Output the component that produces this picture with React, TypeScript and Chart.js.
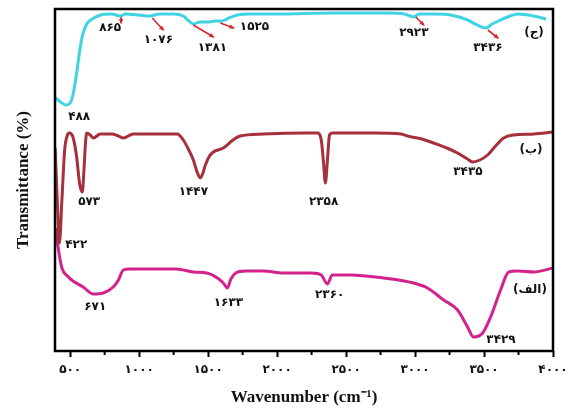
import React, { useEffect, useRef } from "react";
import { Chart, registerables } from "chart.js";

Chart.register(...registerables);

// Wavenumber (cm-1) and transmittance (arbitrary, offset spectra)
const cyanWn = [395, 430, 470, 500, 520, 545, 570, 590, 620, 660, 720, 800, 865, 900, 1000, 1076, 1150, 1250, 1320, 1360, 1393, 1440, 1500, 1550, 1600, 1650, 1712, 1800, 2000, 2400, 2800, 2923, 2990, 3030, 3150, 3258, 3381, 3450, 3512, 3560, 3620, 3690, 3744, 3860, 3950];
const cyanT = [253, 249, 246, 248, 256, 276, 301, 316, 327, 332, 336, 337, 335, 337, 336, 335, 337, 337, 335, 330, 327, 329, 329, 330, 330, 333, 336, 337, 337, 338, 338, 337, 334, 337, 337, 336, 331, 326, 323, 327, 331, 335, 337, 335, 332];

const redWn = [391, 405, 422, 440, 460, 480, 494, 520, 545, 570, 588, 600, 610, 620, 645, 668, 718, 800, 850, 885, 957, 1100, 1276, 1320, 1360, 1393, 1420, 1443, 1460, 1480, 1510, 1538, 1610, 1680, 1733, 1900, 2200, 2292, 2320, 2335, 2350, 2365, 2380, 2400, 2700, 2900, 2945, 3050, 3134, 3230, 3308, 3380, 3417, 3470, 3526, 3590, 3642, 3715, 3860, 4000];
const redT = [203, 156, 108, 151, 201, 216, 218, 214, 196, 166, 159, 181, 206, 218, 216, 213, 217, 217, 215, 213, 217, 217, 217, 211, 201, 191, 179, 173, 177, 186, 195, 199, 203, 211, 215, 217, 218, 218, 211, 191, 168, 191, 216, 218, 218, 217, 215, 212, 208, 203, 198, 192, 189, 191, 196, 206, 213, 216, 217, 219];

const magWn = [395, 410, 440, 480, 520, 594, 668, 740, 812, 850, 885, 930, 1100, 1270, 1393, 1490, 1567, 1610, 1640, 1665, 1700, 1770, 1900, 2046, 2250, 2320, 2365, 2400, 2532, 2771, 2990, 3090, 3207, 3308, 3381, 3424, 3490, 3548, 3620, 3679, 3744, 3860, 4000];
const magT = [123, 106, 83, 75, 70, 64, 57, 58, 64, 71, 81, 82, 82, 82, 79, 78, 73, 68, 63, 72, 78, 80, 80, 78, 78, 76, 67, 76, 76, 73, 68, 63, 51, 41, 24, 14, 18, 34, 61, 79, 80, 79, 83];

const majorTicks = [500, 1000, 1500, 2000, 2500, 3000, 3500, 4000];
const minorTicks = [750, 1250, 1750, 2250, 2750, 3250, 3750];

// Peak labels: text, wavenumber, transmittance position
const labelText = ["۸۶۵", "۱۰۷۶", "۱۳۸۱", "۱۵۲۵", "۲۹۲۳", "۳۴۳۶", "(ج)", "۴۸۸", "۵۷۳", "۴۲۲", "۱۴۴۷", "۲۳۵۸", "۳۴۳۵", "(ب)", "۶۷۱", "۱۶۳۳", "۲۳۶۰", "۳۴۲۹", "(الف)"];
const labelWn = [790, 1139, 1531, 1836, 2991, 3528, 3862, 565, 638, 544, 1393, 2337, 3383, 3840, 682, 1647, 2381, 3623, 3833];
const labelT = [323, 311, 303, 324, 318, 303, 318, 234, 149, 106, 159, 149, 179, 201, 44, 48, 56, 11, 61];

// Red arrows: start (wn, T) -> end (wn, T)
const arrowWn0 = [868, 1095, 1393, 1589, 3005, 3528];
const arrowT0 = [334, 333, 326, 328, 334, 321];
const arrowWn1 = [870, 1175, 1538, 1684, 3063, 3601];
const arrowT1 = [328, 321, 314, 323, 326, 313];

const toFa = (s: string) => s.replace(/\d/g, (d) => "۰۱۲۳۴۵۶۷۸۹"[+d]);

const pts = (xs: number[], ys: number[]) => xs.map((x, i) => ({ x, y: ys[i] }));

const decorPlugin = {
  id: "decor",
  afterDatasetsDraw(chart: any) {
    const { ctx, chartArea, scales } = chart;
    const xs = scales.x;
    const ys = scales.y;
    ctx.save();
    // arrows
    ctx.strokeStyle = "#d22a2a";
    ctx.fillStyle = "#d22a2a";
    ctx.lineWidth = 1.6;
    for (let i = 0; i < arrowWn0.length; i++) {
      const x0 = xs.getPixelForValue(arrowWn0[i]);
      const y0 = ys.getPixelForValue(arrowT0[i]);
      const x1 = xs.getPixelForValue(arrowWn1[i]);
      const y1 = ys.getPixelForValue(arrowT1[i]);
      const ang = Math.atan2(y1 - y0, x1 - x0);
      ctx.beginPath();
      ctx.moveTo(x0, y0);
      ctx.lineTo(x1, y1);
      ctx.stroke();
      const h = 4.5;
      ctx.beginPath();
      ctx.moveTo(x1 + Math.cos(ang) * 1.5, y1 + Math.sin(ang) * 1.5);
      ctx.lineTo(x1 - Math.cos(ang - 0.5) * h, y1 - Math.sin(ang - 0.5) * h);
      ctx.lineTo(x1 - Math.cos(ang + 0.5) * h, y1 - Math.sin(ang + 0.5) * h);
      ctx.closePath();
      ctx.fill();
    }
    // labels
    ctx.fillStyle = "#111";
    ctx.font = 'bold 12px "DejaVu Sans"';
    ctx.textAlign = "center";
    ctx.textBaseline = "middle";
    for (let i = 0; i < labelText.length; i++) {
      ctx.fillText(labelText[i], xs.getPixelForValue(labelWn[i]), ys.getPixelForValue(labelT[i]));
    }
    // minor ticks
    ctx.strokeStyle = "#000";
    ctx.lineWidth = 2;
    for (const v of minorTicks) {
      const x = xs.getPixelForValue(v);
      ctx.beginPath();
      ctx.moveTo(x, chartArea.bottom);
      ctx.lineTo(x, chartArea.bottom + 4);
      ctx.stroke();
    }
    // frame
    ctx.lineWidth = 2.5;
    ctx.strokeStyle = "#000";
    ctx.strokeRect(chartArea.left, chartArea.top, chartArea.right - chartArea.left, chartArea.bottom - chartArea.top);
    ctx.restore();
  },
};

export default function App() {
  const ref = useRef<HTMLCanvasElement | null>(null);
  useEffect(() => {
    if (!ref.current) return;
    const chart = new Chart(ref.current, {
      type: "line",
      data: {
        datasets: [
          { label: "ج", data: pts(cyanWn, cyanT), borderColor: "#3fd3e3", borderWidth: 3, pointRadius: 0, tension: 0.35, cubicInterpolationMode: "monotone" },
          { label: "ب", data: pts(redWn, redT), borderColor: "#a6303c", borderWidth: 3, pointRadius: 0, tension: 0.35, cubicInterpolationMode: "monotone" },
          { label: "الف", data: pts(magWn, magT), borderColor: "#d4228c", borderWidth: 3, pointRadius: 0, tension: 0.35, cubicInterpolationMode: "monotone" },
        ],
      },
      options: {
        responsive: false,
        animation: false,
        layout: { padding: { top: 9, right: 13, left: 0, bottom: 0 } },
        plugins: { legend: { display: false }, tooltip: { enabled: false } },
        scales: {
          x: {
            type: "linear",
            min: 390,
            max: 4000,
            afterFit: (s: any) => { s.height = 60; s.paddingLeft = 0; s.paddingRight = 0; },
            afterBuildTicks: (s: any) => { s.ticks = majorTicks.map((v) => ({ value: v })); },
            grid: { display: true, drawOnChartArea: false, drawTicks: true, tickLength: 6, tickColor: "#000", tickWidth: 2, color: "#000" },
            border: { display: false },
            ticks: {
              color: "#111",
              padding: 6,
              maxRotation: 0,
              font: { family: "DejaVu Sans", size: 12, weight: "bold" },
              callback: (v: any) => toFa(String(v)),
            },
            title: {
              display: true,
              text: "Wavenumber (cm⁻¹)",
              color: "#111",
              font: { family: "Liberation Serif", size: 17, weight: "bold" },
              padding: { top: 0, bottom: 3 },
            },
          },
          y: {
            min: 0,
            max: 342,
            afterFit: (s: any) => { s.width = 55; s.paddingTop = 0; s.paddingBottom = 0; },
            grid: { display: false },
            border: { display: false },
            ticks: { display: false },
            title: {
              display: true,
              text: "Transmittance (%)",
              color: "#111",
              font: { family: "Liberation Serif", size: 17, weight: "bold" },
              padding: { top: 13, bottom: 0 },
            },
          },
        },
      },
      plugins: [decorPlugin],
    } as any);
    return () => chart.destroy();
  }, []);
  return (
    <div style={{ position: "fixed", left: 0, top: 0, width: 566, height: 411, background: "#fff" }}>
      <canvas ref={ref} width={566} height={411} style={{ display: "block" }} />
    </div>
  );
}
